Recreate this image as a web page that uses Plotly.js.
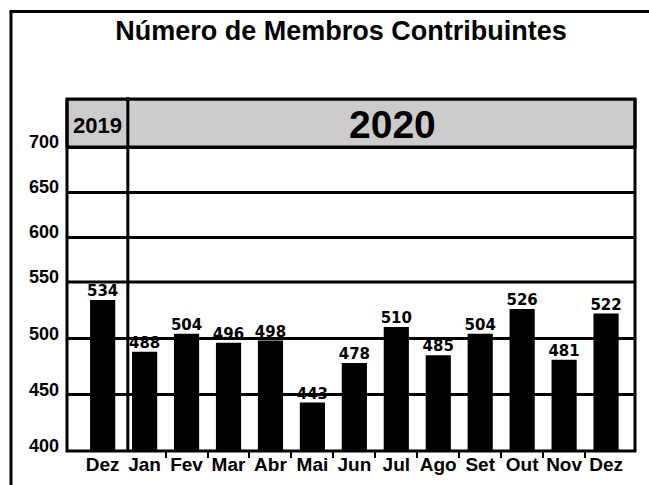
<!DOCTYPE html>
<html>
<head>
<meta charset="utf-8">
<script src="https://cdn.plot.ly/plotly-3.0.1.min.js"></script>
<style>html,body{margin:0;padding:0;background:#fff;}#chart{width:649px;height:485px;}</style>
</head>
<body>
<div id="chart"></div>
<script>
var months = ["Dez", "Jan", "Fev", "Mar", "Abr", "Mai", "Jun", "Jul", "Ago", "Set", "Out", "Nov", "Dez"];
var members = [534, 488, 504, 496, 498, 443, 478, 510, 485, 504, 526, 481, 522];
var yearLabels = ["2019", "2020"];
var yTicksLower = [400, 450, 500, 550];
var yTicksUpper = [600, 650, 700];
var chartTitle = "Número de Membros Contribuintes";

var xIdx = months.map(function (m, i) { return i; });
var boundaries = [];
for (var i = 1; i < months.length - 1; i++) { boundaries.push(i + 0.5); }

var W = 649, H = 485;
var plotL = 67, plotR = 635, plotT = 99, plotB = 451;
var pw = plotR - plotL, ph = plotB - plotT;
function px2paperX(p) { return (p - plotL) / pw; }
function py2paperY(p) { return (plotB - p) / ph; }

// the reference axis is drawn in two scales: 400-550 (lower) and 550-700 (upper)
var splitPx = 282, gridTopPx = 147;
var lowerDomainTop = py2paperY(splitPx);
var upperScale = (splitPx - gridTopPx) / (700 - 550);
var upperTop = 700 + (gridTopPx - plotT) / upperScale;

var bars = {
  type: "bar",
  x: xIdx,
  y: members,
  width: 0.6,
  marker: { color: "#000000", line: { width: 0 } },
  hoverinfo: "skip",
  cliponaxis: false
};

var labels = {
  type: "scatter",
  mode: "text",
  x: xIdx,
  y: members,
  text: members.map(String),
  textposition: "top center",
  textfont: { family: "DejaVu Sans", size: 15, color: "#000000", weight: "bold" },
  cliponaxis: false,
  hoverinfo: "skip"
};

var upperHolder = {
  type: "scatter", mode: "markers", x: [], y: [], yaxis: "y2", hoverinfo: "skip"
};

var tickFontY = { family: "Liberation Sans", size: 18, color: "#000000", weight: "bold" };

var layout = {
  width: W,
  height: H,
  margin: { l: plotL, r: W - plotR, t: plotT, b: H - plotB, pad: 0 },
  paper_bgcolor: "#ffffff",
  plot_bgcolor: "#ffffff",
  showlegend: false,
  title: {
    text: chartTitle,
    font: { family: "Liberation Sans", size: 27, color: "#000000", weight: "bold" },
    xref: "container", x: 341 / W, xanchor: "center",
    yref: "container", y: 1 - 31 / H, yanchor: "middle"
  },
  xaxis: {
    range: [-0.85, 12.69],
    anchor: "y",
    tickmode: "array",
    tickvals: xIdx,
    ticktext: months,
    ticks: "",
    showgrid: false,
    zeroline: false,
    showline: false,
    tickfont: { family: "Liberation Sans", size: 19, color: "#000000", weight: "bold" },
    minor: { tickmode: "array", tickvals: boundaries, ticks: "outside", ticklen: 6, tickwidth: 2, tickcolor: "#000000", showgrid: false },
    fixedrange: true
  },
  yaxis: {
    domain: [0, lowerDomainTop],
    anchor: "x",
    range: [400, 550],
    tickmode: "array",
    tickvals: yTicksLower,
    ticks: "",
    showgrid: true,
    gridcolor: "#000000",
    gridwidth: 3,
    zeroline: false,
    showline: false,
    ticklabelshift: -5,
    ticklabelstandoff: 7,
    tickfont: tickFontY,
    fixedrange: true
  },
  yaxis2: {
    domain: [lowerDomainTop, 1],
    anchor: "x",
    range: [550, upperTop],
    tickmode: "array",
    tickvals: yTicksUpper,
    ticks: "",
    showgrid: true,
    gridcolor: "#000000",
    gridwidth: 3,
    zeroline: false,
    showline: false,
    ticklabelshift: -5,
    ticklabelstandoff: 7,
    tickfont: tickFontY,
    fixedrange: true
  },
  shapes: [
    { type: "rect", xref: "paper", yref: "y2", x0: 0, x1: 1, y0: 700, y1: upperTop,
      fillcolor: "#cccccc", line: { color: "#000000", width: 3 }, layer: "above" },
    { type: "line", xref: "paper", yref: "paper", x0: 0, x1: 1, y0: lowerDomainTop, y1: lowerDomainTop,
      line: { color: "#000000", width: 3 }, layer: "below" },
    { type: "line", xref: "x", yref: "paper", x0: 0.6, x1: 0.6, y0: 0, y1: py2paperY(97),
      line: { color: "#000000", width: 3 }, layer: "above" },
    { type: "rect", xref: "paper", yref: "paper", x0: 0, x1: 1, y0: 0, y1: 1,
      fillcolor: "rgba(0,0,0,0)", line: { color: "#000000", width: 3 }, layer: "above" },
    { type: "line", xref: "paper", yref: "paper", x0: px2paperX(11), x1: px2paperX(11), y0: py2paperY(11.5), y1: py2paperY(490),
      line: { color: "#000000", width: 3 } },
    { type: "line", xref: "paper", yref: "paper", x0: px2paperX(9.5), x1: px2paperX(660), y0: py2paperY(11.5), y1: py2paperY(11.5),
      line: { color: "#000000", width: 3 } }
  ],
  annotations: [
    { text: yearLabels[0], xref: "paper", yref: "paper", x: px2paperX(97), y: py2paperY(126), xanchor: "center", yanchor: "middle",
      showarrow: false, font: { family: "Liberation Sans", size: 22, color: "#000000", weight: "bold" } },
    { text: yearLabels[1], xref: "paper", yref: "paper", x: px2paperX(392), y: py2paperY(124), xanchor: "center", yanchor: "middle",
      showarrow: false, font: { family: "Liberation Sans", size: 39, color: "#000000", weight: "bold" } }
  ]
};

Plotly.newPlot("chart", [bars, labels, upperHolder], layout, { displayModeBar: false, staticPlot: true });
</script>
</body>
</html>
